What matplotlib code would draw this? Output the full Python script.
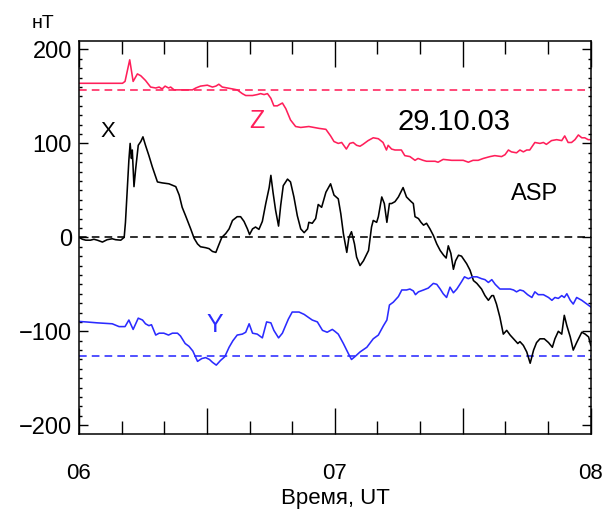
import matplotlib.pyplot as plt
import numpy as np

plt.rcParams["font.family"] = ["Liberation Sans", "DejaVu Sans"]

# minutes after 06 UT and field components, nT
z_t = [0, 10.2, 10.8, 11.9, 12.7, 13.7, 14.5, 15.6, 16.8, 18.0, 18.8, 19.5, 20.2, 21.0,
       21.5, 22.3, 23.5, 26.6, 27.4, 28.5, 30.1, 31.3, 32.1, 32.8, 33.6, 34.8, 36.0,
       37.1, 38.3, 39.1, 40.7, 41.8, 42.6, 43.4, 44.2, 45.0, 45.7, 46.5, 47.7, 48.5,
       49.6, 50.8, 52.0, 53.9, 56.3, 57.9, 59.0, 59.8, 60.8, 61.6, 62.7, 63.5, 64.3,
       65.1, 65.9, 66.6, 67.8, 69.0, 70.2, 71.3, 72.1, 72.5, 73.3, 74.1, 75.6, 76.4,
       77.6, 78.8, 79.5, 80.7, 81.5, 83.5, 84.2, 85.4, 87.4, 90.1, 91.3, 92.4, 93.6,
       94.8, 96.4, 97.5, 99.1, 99.9, 100.7, 101.4, 102.6, 103.4, 104.2, 105.0, 105.7,
       106.9, 108.1, 108.9, 109.6, 110.8, 112.0, 113.2, 113.9, 114.7, 115.5, 116.3,
       117.1, 117.9, 118.6, 119.4, 120.0]
z_v = [164, 164, 166, 189, 166, 174, 172, 167, 160, 159, 160, 158, 161, 159,
       160, 157, 157, 157, 159, 161, 162, 160, 161, 163, 160, 159, 158,
       157, 153, 151, 151, 152, 153, 152, 153, 148, 140, 140, 143, 137,
       125, 118, 117, 118, 116, 115, 108, 102, 100, 101, 94, 100, 101,
       98, 97, 99, 103, 106, 105, 101, 93, 98, 94, 93, 93, 87,
       86, 82, 84, 82, 81, 81, 80, 83, 82, 82, 80, 82, 82,
       84, 86, 87, 86, 88, 93, 91, 90, 93, 91, 93, 93,
       101, 100, 101, 99, 103, 104, 103, 108, 101, 101, 104,
       109, 106, 106, 104, 104]

x_t = [0, 0.8, 1.6, 2.7, 3.5, 4.3, 5.5, 6.6, 7.8, 8.6, 9.8, 10.6, 10.9, 11.3, 11.7,
       12.0, 12.3, 12.5, 12.9, 13.3, 13.9, 14.5, 15.0, 15.6, 16.4, 17.2, 18.4, 19.5,
       21.1, 22.7, 23.5, 24.2, 25.0, 26.2, 27.0, 27.8, 28.5, 29.7, 30.5, 31.3, 32.1,
       32.7, 33.5, 34.4, 35.2, 36.0, 37.1, 37.9, 38.7, 39.5, 40.0, 40.7, 41.4, 42.2,
       43.0, 43.8, 44.6, 45.0, 45.5, 46.1, 46.8, 47.3, 47.9, 48.9, 49.6, 50.4, 51.2,
       52.0, 52.8, 53.6, 53.9, 54.7, 55.5, 56.1, 56.9, 57.9, 59.0, 59.8, 60.8, 61.4,
       62.0, 62.8, 63.3, 63.9, 64.6, 65.1, 65.9, 66.7, 67.9, 68.6, 69.0, 69.8, 70.2,
       71.0, 71.6, 72.2, 72.8, 73.3, 74.1, 74.9, 76.0, 76.8, 77.9, 78.4, 78.8, 79.6,
       80.2, 80.8, 81.5, 82.3, 83.1, 83.9, 84.7, 85.5, 86.1, 86.6, 87.2, 87.8, 88.3,
       89.0, 89.7, 90.9, 91.7, 92.5, 93.3, 94.4, 95.2, 96.0, 96.8, 97.2, 97.9, 98.7,
       99.5, 100.3, 101.1, 101.9, 102.9, 103.4, 104.2, 105.0, 105.8, 106.6, 107.3,
       108.1, 109.1, 110.1, 111.0, 111.6, 112.4, 113.2, 113.8, 114.4, 115.2, 115.9,
       116.7, 117.9, 118.7, 119.5, 120.0]
x_v = [0, -2, -3, -3, -2, -3, -5, -2.5, -1.5, -2.5, -3, 0, 16, 50, 82,
       100, 84, 93, 54, 73, 98, 102, 107, 98, 87, 75, 59, 58,
       57, 54, 45, 32, 23, 9, -1, -7, -10, -11, -12, -15, -16,
       -9, 0, 4, 9, 18, 22, 22, 17, 9, 3, 9, 11, 8.5,
       17, 36, 53, 66, 48, 29, 12, 34, 55, 62, 59, 43, 23,
       9, 5, 9, 16, 15, 20, 35, 32, 48, 57, 45, 41, 25,
       4, -16, 0, 6, -7, -21, -30, -25, -14, 11, 18, 16, 22,
       43, 36, 16, 36, 36, 38, 43, 53, 43, 38, 36, 22, 20,
       16, 13, 15, 9, 2, -7, -14, -19, -22, -9, -17, -34, -25,
       -19, -20, -28, -35, -46, -49, -55, -62, -67, -62, -62, -71, -85,
       -103, -99, -104, -108, -113, -111, -115, -122, -134, -120, -112,
       -108, -108, -112, -117, -108, -100, -103, -83, -94, -106, -120,
       -112, -101, -103, -106, -115]

y_t = [0, 1.6, 4.3, 7.8, 9.4, 10.8, 11.7, 12.7, 13.9, 14.9, 15.6, 16.4, 17.0, 18.0,
       18.8, 19.9, 21.0, 21.9, 23.1, 23.8, 24.9, 25.8, 26.7, 27.8, 28.8, 29.7, 30.6,
       31.3, 32.2, 33.2, 34.2, 35.2, 36.1, 37.1, 38.3, 39.1, 39.9, 40.7, 41.8, 43.0,
       44.0, 45.0, 45.7, 46.8, 47.7, 48.3, 49.1, 50.0, 51.6, 52.8, 53.9, 54.7, 55.9,
       57.1, 58.2, 59.4, 60.0, 60.8, 62.0, 63.2, 63.9, 64.7, 65.9, 67.5, 69.0, 70.2,
       71.4, 72.2, 72.8, 73.7, 74.9, 75.7, 76.8, 77.6, 78.4, 78.9, 79.6, 80.8, 81.9,
       83.1, 83.9, 84.7, 85.4, 86.2, 87.0, 87.8, 88.6, 89.6, 90.4, 91.3, 92.3, 93.3,
       94.4, 95.2, 96.0, 96.8, 97.6, 98.7, 99.9, 101.1, 101.9, 102.6, 103.4, 104.2,
       105.2, 106.2, 106.9, 107.7, 108.9, 110.1, 110.9, 111.6, 112.4, 113.2, 113.8,
       114.4, 115.2, 115.9, 116.7, 117.9, 119.1, 120.0]
y_v = [-89.5, -90, -91, -92, -95, -95, -88, -98, -86, -88, -92, -94, -93, -104,
       -102, -102, -104, -102, -102, -105, -113, -116, -121, -132, -129, -128, -130,
       -133, -136, -131, -127, -117, -110, -104, -103, -101, -92, -102, -103, -107,
       -90, -91, -99, -107, -102, -95.5, -87, -79.5, -79.5, -82, -85.5, -88, -90,
       -99, -101, -98, -100, -103, -113, -124, -130, -127, -122, -117, -108, -104,
       -94, -88, -72, -69, -63, -56, -56, -55, -57, -61, -58, -56, -54,
       -49, -50, -55, -60, -64, -53, -59, -55, -48, -42, -44, -42, -42,
       -44, -45, -48, -45, -50, -55, -55, -55, -56, -58, -56, -57,
       -61, -64, -58, -61, -61, -64, -67, -64, -65, -62, -64,
       -60, -67, -71, -64, -67, -71, -74]

# quiet-day base levels
z_base = 157
x_base = 0
y_base = -126

pink = "#ff1f5a"
blue = "#2b2bff"

fig = plt.figure(figsize=(6.07, 5.16), dpi=100)
ax = fig.add_axes([0.1301, 0.1595, 0.8431, 0.761])

dash = (0, (4.8, 3.2))
ax.axhline(z_base, color=pink, lw=1.15, ls=dash)
ax.axhline(x_base, color="black", lw=1.15, ls=dash)
ax.axhline(y_base, color=blue, lw=1.15, ls=dash)

ax.plot(z_t, z_v, color=pink, lw=1.15)
ax.plot(x_t, x_v, color="black", lw=1.15)
ax.plot(y_t, y_v, color=blue, lw=1.15)

ax.set_xlim(0, 120)
ax.set_ylim(-209, 209)

ax.set_xticks([0, 30, 60, 90, 120])
ax.set_xticklabels(["06", "", "07", "", "08"])
ax.set_xticks(np.arange(0, 121, 10), minor=True)
ax.set_yticks([-200, -100, 0, 100, 200])
ax.set_yticks(np.arange(-200, 201, 10), minor=True)

ax.tick_params(axis="x", which="major", direction="in", length=18.5, width=1.0,
               top=True, bottom=True, labelsize=16, pad=21)
ax.tick_params(axis="x", which="minor", direction="in", length=9.3, width=1.0,
               top=True, bottom=True)
ax.tick_params(axis="y", which="major", direction="in", length=6.5, width=1.0,
               left=True, right=True, labelsize=17, pad=5)
ax.tick_params(axis="y", which="minor", direction="in", length=2.5, width=1.0,
               left=True, right=True)
for sp in ax.spines.values():
    sp.set_linewidth(1.1)

ax.text(6.8, 113, "X", fontsize=16, ha="center", va="center")
ax.text(41.7, 124, "Z", color=pink, fontsize=18, ha="center", va="center")
ax.text(31.8, -93, "Y", color=blue, fontsize=18, ha="center", va="center")
ax.text(88, 123, "29.10.03", fontsize=21, ha="center", va="center")
ax.text(106.8, 46, "ASP", fontsize=17, ha="center", va="center")

fig.text(0.0708, 0.9535, "нТ", fontsize=14, ha="center", va="center")
fig.text(0.552, 0.033, "Время, UT", fontsize=16, ha="center", va="center")

fig.savefig("out.png", dpi=100)
